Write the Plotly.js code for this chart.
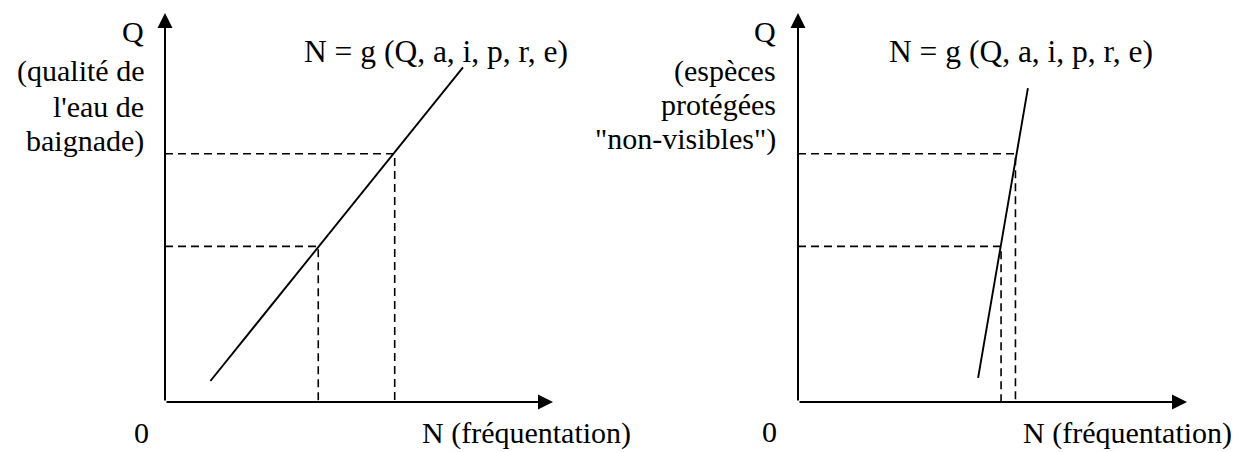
<!DOCTYPE html>
<html>
<head>
<meta charset="utf-8">
<script src="https://cdn.plot.ly/plotly-3.0.1.min.js"></script>
<style>html,body{margin:0;padding:0;background:#fff;}#chart{width:1249px;height:452px;}</style>
</head>
<body>
<div id="chart"></div>
<script>
// ---- data ----
const axisRange = [0, 10];
// left panel: bathing-water quality
const leftLineN = [1.17, 7.68];
const leftLineQ = [0.54, 8.6];
const leftLevelsQ = [4.0, 6.38];
const leftLevelsN = [3.95, 5.92];
// right panel: protected "non-visible" species
const rightLineN = [4.63, 5.91];
const rightLineQ = [0.62, 8.07];
const rightLevelsQ = [4.0, 6.38];
const rightLevelsN = [5.22, 5.59];
// labels
const equation = "N = g (Q, a, i, p, r, e)";
const xLabel = "N (fréquentation)";
const originLabel = "0";
const leftYLabel = ["Q", "(qualité de", "l'eau de", "baignade)"];
const rightYLabel = ["Q", "(espèces", "protégées", "\"non-visibles\")"];

const W = 1249, H = 452;
const SERIF = "Liberation Serif";
const FONT = {family: SERIF, size: 30, color: "#000"};
const EQ_FONT = {family: SERIF, size: 31.5, color: "#000"};

function dashTraces(levelsN, levelsQ, xa, ya) {
  return levelsN.map((n, i) => ({
    type: "scatter", mode: "lines",
    x: [0, n, n], y: [levelsQ[i], levelsQ[i], 0],
    xaxis: xa, yaxis: ya,
    line: {color: "#000", width: 1.6, dash: "8px,5px"},
    hoverinfo: "skip", showlegend: false
  }));
}

const traces = [
  {type: "scatter", mode: "lines", x: leftLineN, y: leftLineQ, xaxis: "x", yaxis: "y",
   line: {color: "#000", width: 1.9}, showlegend: false, hoverinfo: "skip"},
  {type: "scatter", mode: "lines", x: rightLineN, y: rightLineQ, xaxis: "x2", yaxis: "y2",
   line: {color: "#000", width: 1.9}, showlegend: false, hoverinfo: "skip"},
  ...dashTraces(leftLevelsN, leftLevelsQ, "x", "y"),
  ...dashTraces(rightLevelsN, rightLevelsQ, "x2", "y2")
];

function arrow(xr, yr, x, y) {
  return {xref: xr, yref: yr, axref: xr, ayref: yr, x: x, y: y, ax: 0, ay: 0,
          text: "", showarrow: true, arrowhead: 2, arrowsize: 1.5, arrowwidth: 2,
          arrowcolor: "#000", standoff: 0, startstandoff: 0};
}
// text labels placed in paper coordinates (pixel positions converted)
function label(px, py, text, xanchor, font) {
  return {xref: "paper", yref: "paper", x: px / W, y: (H - py) / H, text: text,
          showarrow: false, xanchor: xanchor, yanchor: "middle",
          font: Object.assign({}, font || FONT)};
}

const leftYPx = [31, 71, 106, 141];
const rightYPx = [31, 71, 105, 139];

const annotations = [
  arrow("x", "y", 10, 0), arrow("x", "y", 0, 10),
  arrow("x2", "y2", 10, 0), arrow("x2", "y2", 0, 10),
  label(302, 51, equation, "left", EQ_FONT),
  label(887, 51, equation, "left", EQ_FONT),
  label(420, 433, xLabel, "left"),
  label(1021, 433, xLabel, "left"),
  label(141, 432, originLabel, "center"),
  label(769, 431, originLabel, "center"),
  ...leftYLabel.map((t, i) => label(146, leftYPx[i], t, "right")),
  ...rightYLabel.map((t, i) => label(778, rightYPx[i], t, "right"))
];

const hidden = {range: axisRange, visible: false, fixedrange: true};
const layout = {
  width: W, height: H,
  margin: {l: 0, r: 0, t: 0, b: 0},
  paper_bgcolor: "#fff", plot_bgcolor: "rgba(0,0,0,0)",
  showlegend: false,
  font: {family: SERIF, color: "#000"},
  xaxis: Object.assign({domain: [165/W, 553/W]}, hidden),
  yaxis: Object.assign({domain: [50/H, 439/H]}, hidden),
  xaxis2: Object.assign({domain: [798/W, 1187/W], anchor: "y2"}, hidden),
  yaxis2: Object.assign({domain: [50/H, 439/H], anchor: "x2"}, hidden),
  annotations: annotations
};

Plotly.newPlot("chart", traces, layout, {staticPlot: true, displayModeBar: false});
</script>
</body>
</html>
